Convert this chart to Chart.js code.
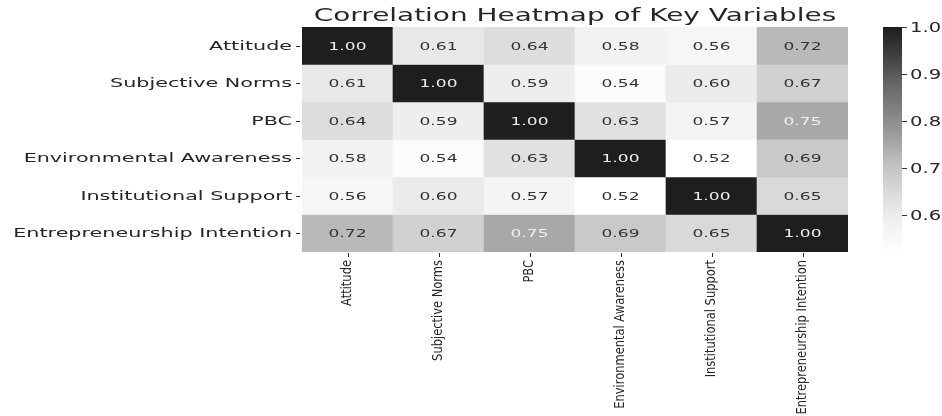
<!DOCTYPE html>
<html>
<head>
<meta charset="utf-8">
<script src="https://cdn.jsdelivr.net/npm/chart.js@4.4.1/dist/chart.umd.min.js"></script>
<style>
  html, body { margin: 0; padding: 0; background: #fff; }
  #wrap { position: relative; width: 942px; height: 416px; }
  #main { position: absolute; left: 0; top: 0; }
  #cbar { position: absolute; left: 870px; top: 0; }
</style>
</head>
<body>
<div id="wrap">
  <canvas id="main" width="942" height="416"></canvas>
  <canvas id="cbar" width="72" height="416"></canvas>
</div>
<script>
// variables (rows and columns are the same list)
const variables = ["Attitude", "Subjective Norms", "PBC", "Environmental Awareness",
                   "Institutional Support", "Entrepreneurship Intention"];

// correlation rows, one array per variable
const rowAttitude    = [1.00, 0.61, 0.64, 0.58, 0.56, 0.72];
const rowSubjNorms   = [0.61, 1.00, 0.59, 0.54, 0.60, 0.67];
const rowPBC         = [0.64, 0.59, 1.00, 0.63, 0.57, 0.75];
const rowEnvAware    = [0.58, 0.54, 0.63, 1.00, 0.52, 0.69];
const rowInstSupport = [0.56, 0.60, 0.57, 0.52, 1.00, 0.65];
const rowEntIntent   = [0.72, 0.67, 0.75, 0.69, 0.65, 1.00];
const rows = [rowAttitude, rowSubjNorms, rowPBC, rowEnvAware, rowInstSupport, rowEntIntent];

// colorbar range and ticks
const vmin = 0.52, vmax = 1.0;
const cbTicks = [0.6, 0.7, 0.8, 0.9, 1.0];

const FONT = "'DejaVu Sans', sans-serif";

// matplotlib "Greys" stops
const greys = [255, 240, 217, 189, 150, 115, 82, 37, 0];
function greyRaw(v) {
  let t = (v - vmin) / (vmax - vmin);
  t = Math.max(0, Math.min(1, t)) * (greys.length - 1);
  const i = Math.min(Math.floor(t), greys.length - 2);
  return greys[i] + (greys[i + 1] - greys[i]) * (t - i);
}
function greyColor(v) {
  // picture is a bit washed out, black ends near #1e1e1e
  const g = Math.round(30 + greyRaw(v) * 225 / 255);
  return `rgb(${g},${g},${g})`;
}
function textColor(v) {
  const c = greyRaw(v) / 255;
  const lin = c <= 0.04045 ? c / 12.92 : Math.pow((c + 0.055) / 1.055, 2.4);
  return lin < 0.408 ? "#efefef" : "#333333";
}

// text drawn wider than the font, like the stretched original
function wideText(ctx, txt, x, y, sx, align, base) {
  ctx.save();
  ctx.translate(x, y);
  ctx.scale(sx, 1);
  ctx.textAlign = align;
  ctx.textBaseline = base;
  ctx.fillText(txt, 0, 0);
  ctx.restore();
}

const labelPlugin = {
  id: "heatLabels",
  afterDatasetsDraw(chart) {
    const ctx = chart.ctx;
    const xs = chart.scales.x, ys = chart.scales.y;
    const area = chart.chartArea;

    // cell annotations
    ctx.font = "11px " + FONT;
    rows.forEach((row, r) => {
      row.forEach((v, c) => {
        ctx.fillStyle = textColor(v);
        wideText(ctx, v.toFixed(2), xs.getPixelForValue(c), ys.getPixelForValue(r + 0.5) + 1, 1.55, "center", "middle");
      });
    });

    ctx.strokeStyle = "#333";
    ctx.lineWidth = 1;
    // y tick labels
    ctx.font = "11.5px " + FONT;
    ctx.fillStyle = "#262626";
    variables.forEach((name, r) => {
      const y = ys.getPixelForValue(r + 0.5);
      wideText(ctx, name, area.left - 10, y + 1, 1.8, "right", "middle");
      ctx.beginPath();
      ctx.moveTo(area.left - 6, Math.round(y) + 0.5);
      ctx.lineTo(area.left - 2, Math.round(y) + 0.5);
      ctx.stroke();
    });

    // x tick labels (rotated, squeezed along their length)
    ctx.font = "14px " + FONT;
    variables.forEach((name, c) => {
      const x = xs.getPixelForValue(c);
      ctx.beginPath();
      ctx.moveTo(Math.round(x) + 0.5, area.bottom + 1);
      ctx.lineTo(Math.round(x) + 0.5, area.bottom + 5);
      ctx.stroke();
      ctx.save();
      ctx.translate(x, area.bottom + 8);
      ctx.rotate(-Math.PI / 2);
      ctx.scale(0.82, 1);
      ctx.textAlign = "right";
      ctx.textBaseline = "middle";
      ctx.fillText(name, 0, 0);
      ctx.restore();
    });

    // title
    ctx.font = "18px " + FONT;
    ctx.fillStyle = "#262626";
    wideText(ctx, "Correlation Heatmap of Key Variables", (area.left + area.right) / 2, 16, 1.55, "center", "middle");
  }
};

new Chart(document.getElementById("main"), {
  type: "bar",
  data: {
    labels: variables,
    datasets: rows.map((row, r) => ({
      label: variables[r],
      data: row.map(() => [r, r + 1]),
      backgroundColor: row.map(v => greyColor(v)),
      borderWidth: 0,
      grouped: false,
      barPercentage: 1,
      categoryPercentage: 1
    }))
  },
  options: {
    responsive: false,
    animation: false,
    layout: { padding: { left: 302, right: 94, top: 27, bottom: 164 } },
    plugins: { legend: { display: false }, tooltip: { enabled: false }, title: { display: false } },
    scales: {
      x: { display: false },
      y: { display: false, min: 0, max: rows.length, reverse: true }
    }
  },
  plugins: [labelPlugin]
});

// colorbar
const cbPlugin = {
  id: "cbLabels",
  afterDatasetsDraw(chart) {
    const ctx = chart.ctx;
    const ys = chart.scales.y;
    const area = chart.chartArea;
    ctx.strokeStyle = "#333";
    ctx.fillStyle = "#262626";
    ctx.lineWidth = 1;
    ctx.font = "13.5px " + FONT;
    cbTicks.forEach(t => {
      const y = Math.round(ys.getPixelForValue(t)) + 0.5;
      ctx.beginPath();
      ctx.moveTo(area.right, y);
      ctx.lineTo(area.right + 5, y);
      ctx.stroke();
      wideText(ctx, t.toFixed(1), area.right + 8, y + 1, 1.45, "left", "middle");
    });
  }
};

new Chart(document.getElementById("cbar"), {
  type: "bar",
  data: {
    labels: ["cb"],
    datasets: [{
      data: [[vmin, vmax]],
      borderWidth: 0,
      barPercentage: 1,
      categoryPercentage: 1,
      backgroundColor(c) {
        const a = c.chart.chartArea;
        if (!a) return "#999";
        const g = c.chart.ctx.createLinearGradient(0, a.bottom, 0, a.top);
        for (let i = 0; i <= 16; i++) {
          g.addColorStop(i / 16, greyColor(vmin + (vmax - vmin) * i / 16));
        }
        return g;
      }
    }]
  },
  options: {
    responsive: false,
    animation: false,
    layout: { padding: { left: 13, right: 40, top: 27, bottom: 163 } },
    plugins: { legend: { display: false }, tooltip: { enabled: false } },
    scales: {
      x: { display: false },
      y: { display: false, min: vmin, max: vmax }
    }
  },
  plugins: [cbPlugin]
});
</script>
</body>
</html>
